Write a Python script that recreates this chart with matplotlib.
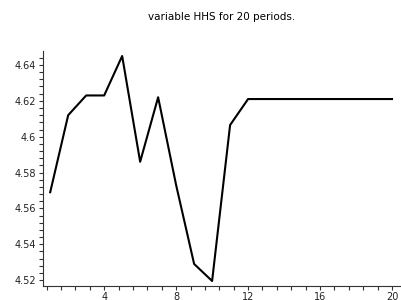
import numpy as np
import matplotlib
matplotlib.use("Agg")
import matplotlib.pyplot as plt
from matplotlib.ticker import MultipleLocator

# values
periods = [1, 2, 3, 4, 5, 6, 7, 8, 9, 10, 11, 12, 13, 14, 15, 16, 17, 18, 19, 20]
hhs = [4.569, 4.612, 4.623, 4.623, 4.645, 4.586, 4.622, 4.573, 4.529, 4.5195,
       4.6065, 4.621, 4.621, 4.621, 4.621, 4.621, 4.621, 4.621, 4.621, 4.621]
title = "variable HHS for 20 periods."

plt.rcParams['font.family'] = ['DejaVu Sans']

fig = plt.figure(figsize=(4.02, 3.0), dpi=100)
ax = fig.add_axes([43 / 402, 14 / 300, 358 / 402, 235 / 300])

ax.plot(periods, hhs, color="black", linewidth=1.5)

ax.set_xlim(0.6, 20.5)
ax.set_ylim(4.5167, 4.6478)

ax.xaxis.set_major_locator(MultipleLocator(4))
ax.xaxis.set_minor_locator(MultipleLocator(0.8))
ax.yaxis.set_major_locator(MultipleLocator(0.02))
ax.yaxis.set_minor_locator(MultipleLocator(0.004))
ax.yaxis.set_major_formatter(plt.FuncFormatter(lambda v, p: f"{v:.2f}".rstrip("0").rstrip(".")))

for side in ("top", "right"):
    ax.spines[side].set_visible(False)
for side in ("left", "bottom"):
    ax.spines[side].set_linewidth(0.8)
    ax.spines[side].set_color("#333333")

ax.tick_params(which="both", direction="out", length=3, width=0.8, color="#333333",
               labelsize=7, labelcolor="#222222")
ax.tick_params(axis="x", pad=1.5)
ax.tick_params(axis="y", pad=2)

fig.text(222 / 402, 1 - 17 / 300, title, ha="center", va="center", fontsize=7.5)

fig.savefig("out.png", dpi=100)
